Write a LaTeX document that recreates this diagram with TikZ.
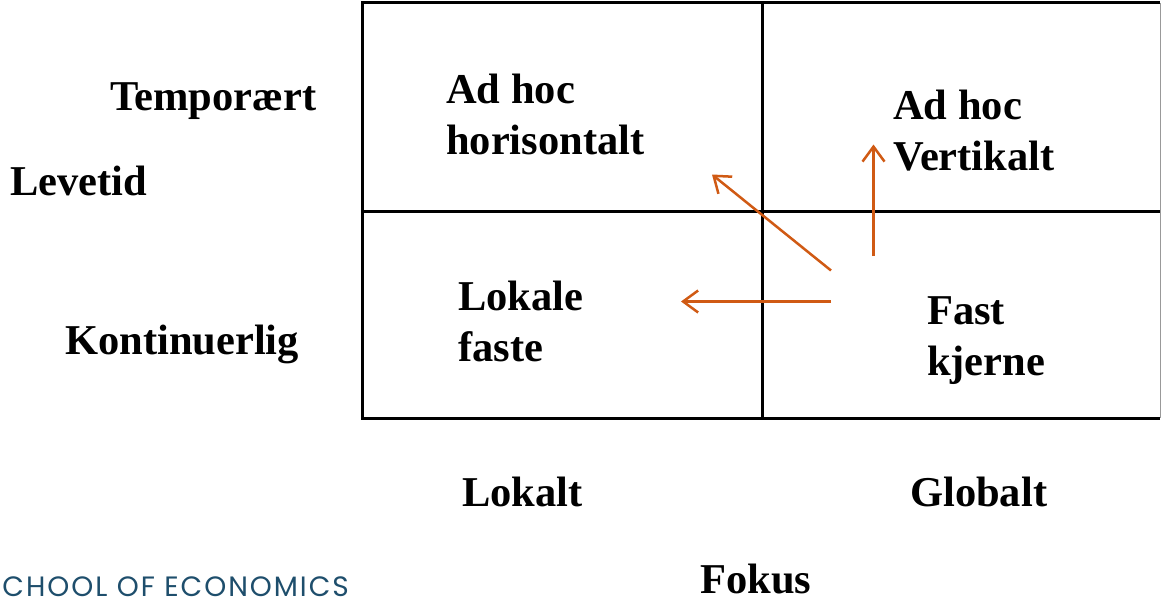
\documentclass[tikz,border=0pt]{standalone}
\usepackage{fontspec}
\setmainfont{Liberation Serif}
\newfontfamily\footfont[LetterSpace=7]{Poppins}
\usetikzlibrary{arrows.meta}
\definecolor{arroworange}{RGB}{208,90,20}
\definecolor{footblue}{RGB}{30,78,108}
\tikzset{
  lbl/.style={font=\fontsize{42.5}{51}\selectfont\bfseries, inner sep=0pt, align=left},
  gridline/.style={line width=3pt, black},
  orangearrow/.style={line width=2.5pt, arroworange, -{Straight Barb[length=15pt,width=22pt,line width=2.5pt]}}
}
\begin{document}
\begin{tikzpicture}[x=1pt,y=-1pt]
\useasboundingbox (0,0) rectangle (1161,599);
% grid
\coordinate (tl) at (362,3);
\coordinate (tm) at (762,3);
\coordinate (tr) at (1160,3);
\coordinate (ml) at (362,211);
\coordinate (mr) at (1160,211);
\coordinate (bl) at (362,418);
\coordinate (bm) at (762,418);
\coordinate (br) at (1160,418);
\draw[gridline] (tr) -- (tl) -- (bl) -- (br);
\draw[gridline] (tm) -- (bm);
\draw[gridline] (ml) -- (mr);
\draw[line width=1pt, black!40] (tr) -- (br);
% axis labels
\node[lbl, anchor=base west] (temp) at (110,111) {Temporært};
\node[lbl, anchor=base west] (levetid) at (10,195) {Levetid};
\node[lbl, anchor=base west] (kont) at (65,354) {Kontinuerlig};
\node[lbl, anchor=base west] (lokalt) at (462,506) {Lokalt};
\node[lbl, anchor=base west] (globalt) at (910,506) {Globalt};
\node[lbl, anchor=base west] (fokus) at (700,593) {Fokus};
% cell labels
\node[lbl, anchor=north west] (adhoch) at (446,74) {Ad hoc\\horisontalt};
\node[lbl, anchor=north west] (adhocv) at (893,90) {Ad hoc\\Vertikalt};
\node[lbl, anchor=north west] (lokale) at (458,281) {Lokale\\faste};
\node[lbl, anchor=north west] (fast) at (927,296) {Fast\\kjerne};
% arrows
\coordinate (a1s) at (831,270.5);
\coordinate (a1e) at (712,174.5);
\coordinate (a2s) at (873.5,256);
\coordinate (a2e) at (873.5,144.5);
\coordinate (a3s) at (831,301.5);
\coordinate (a3e) at (681,301.5);
\draw[orangearrow] (a1s) -- (a1e);
\draw[orangearrow] (a2s) -- (a2e);
\draw[orangearrow] (a3s) -- (a3e);
% footer
\node[inner sep=0pt, anchor=base east, text=footblue, font=\footfont\fontsize{28}{30}\selectfont] (school) at (349,596) {CHOOL OF ECONOMICS};
\end{tikzpicture}
\end{document}
